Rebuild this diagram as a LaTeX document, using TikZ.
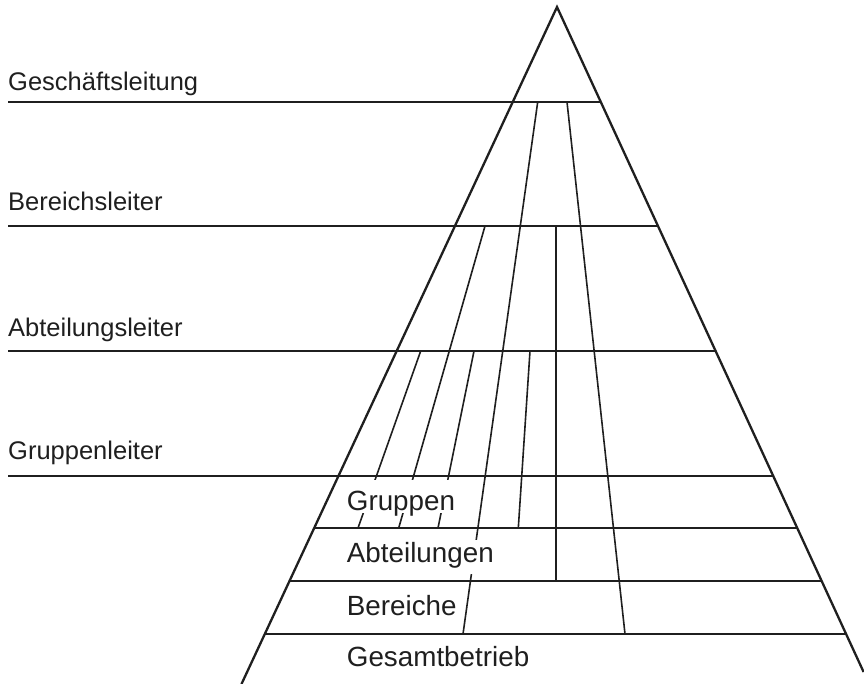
\documentclass[tikz,border=0pt]{standalone}
\usepackage{fontspec}
\setmainfont{Liberation Sans}
\begin{document}
\begin{tikzpicture}[x=1pt,y=-1pt,
  ink/.style={draw=black!88, line width=1.6pt},
  side/.style={draw=black!88, line width=2.3pt},
  lbl/.style={anchor=base west, inner sep=0pt, text=black!88, font=\fontsize{25.5}{30}\selectfont},
  inlbl/.style={lbl, font=\fontsize{27.8}{32}\selectfont},
  mask/.style={inlbl, fill=white, inner xsep=3pt}]
\useasboundingbox (0,0) rectangle (864,684);
% pyramid corners
\coordinate (apex) at (557,7);
\coordinate (bl) at (241.5,684);
\coordinate (br) at (863.6,672);
% level end points
\coordinate (gL) at (8,102);   \coordinate (gR) at (600.8,102);
\coordinate (bL) at (8,226);   \coordinate (bR) at (658.0,226);
\coordinate (aL) at (8,351);   \coordinate (aR) at (715.6,351);
\coordinate (uL) at (8,476);   \coordinate (uR) at (773.2,476);
\coordinate (g1L) at (314.2,528); \coordinate (g1R) at (797.2,528);
\coordinate (g2L) at (289.5,581); \coordinate (g2R) at (821.6,581);
\coordinate (g3L) at (264.8,634); \coordinate (g3R) at (846.0,634);
% inner line end points
\coordinate (At) at (537.7,102); \coordinate (Ab) at (463,634);
\coordinate (Bt) at (567,102);   \coordinate (Bb) at (625,634);
\coordinate (Ct) at (485,226);   \coordinate (Cb) at (398.7,528);
\coordinate (Et) at (556,226);   \coordinate (Eb) at (556,581);
\coordinate (D1t) at (420.7,351); \coordinate (D1b) at (358,528);
\coordinate (D2t) at (474,351);   \coordinate (D2b) at (438,528);
\coordinate (D3t) at (530,351);   \coordinate (D3b) at (518.3,528);
% horizontal lines
\draw[ink] (gL) -- (gR);
\draw[ink] (bL) -- (bR);
\draw[ink] (aL) -- (aR);
\draw[ink] (uL) -- (uR);
\draw[ink] (g1L) -- (g1R);
\draw[ink] (g2L) -- (g2R);
\draw[ink] (g3L) -- (g3R);
% inner lines
\draw[ink] (At) -- (Ab);
\draw[ink] (Bt) -- (Bb);
\draw[ink] (Ct) -- (Cb);
\draw[ink] (Et) -- (Eb);
\draw[ink] (D1t) -- (D1b);
\draw[ink] (D2t) -- (D2b);
\draw[ink] (D3t) -- (D3b);
% pyramid sides
\draw[side] (bl) -- (apex) -- (br);
% level labels
\node[lbl] (lg) at (8,91) {Geschäftsleitung};
\node[lbl] (lb) at (8,211) {Bereichsleiter};
\node[lbl] (la) at (8,336) {Abteilungsleiter};
\node[lbl] (lu) at (8,459) {Gruppenleiter};
% inner labels
\node[mask, text height=30pt, text depth=3pt] (tg) at (343.7,510) {Gruppen};
\node[mask, text height=22.7pt, text depth=11.3pt] (ta) at (343.7,562.7) {Abteilungen};
\node[inlbl] (tb) at (346.7,615) {Bereiche};
\node[inlbl] (tt) at (346.7,666) {Gesamtbetrieb};
\end{tikzpicture}
\end{document}
